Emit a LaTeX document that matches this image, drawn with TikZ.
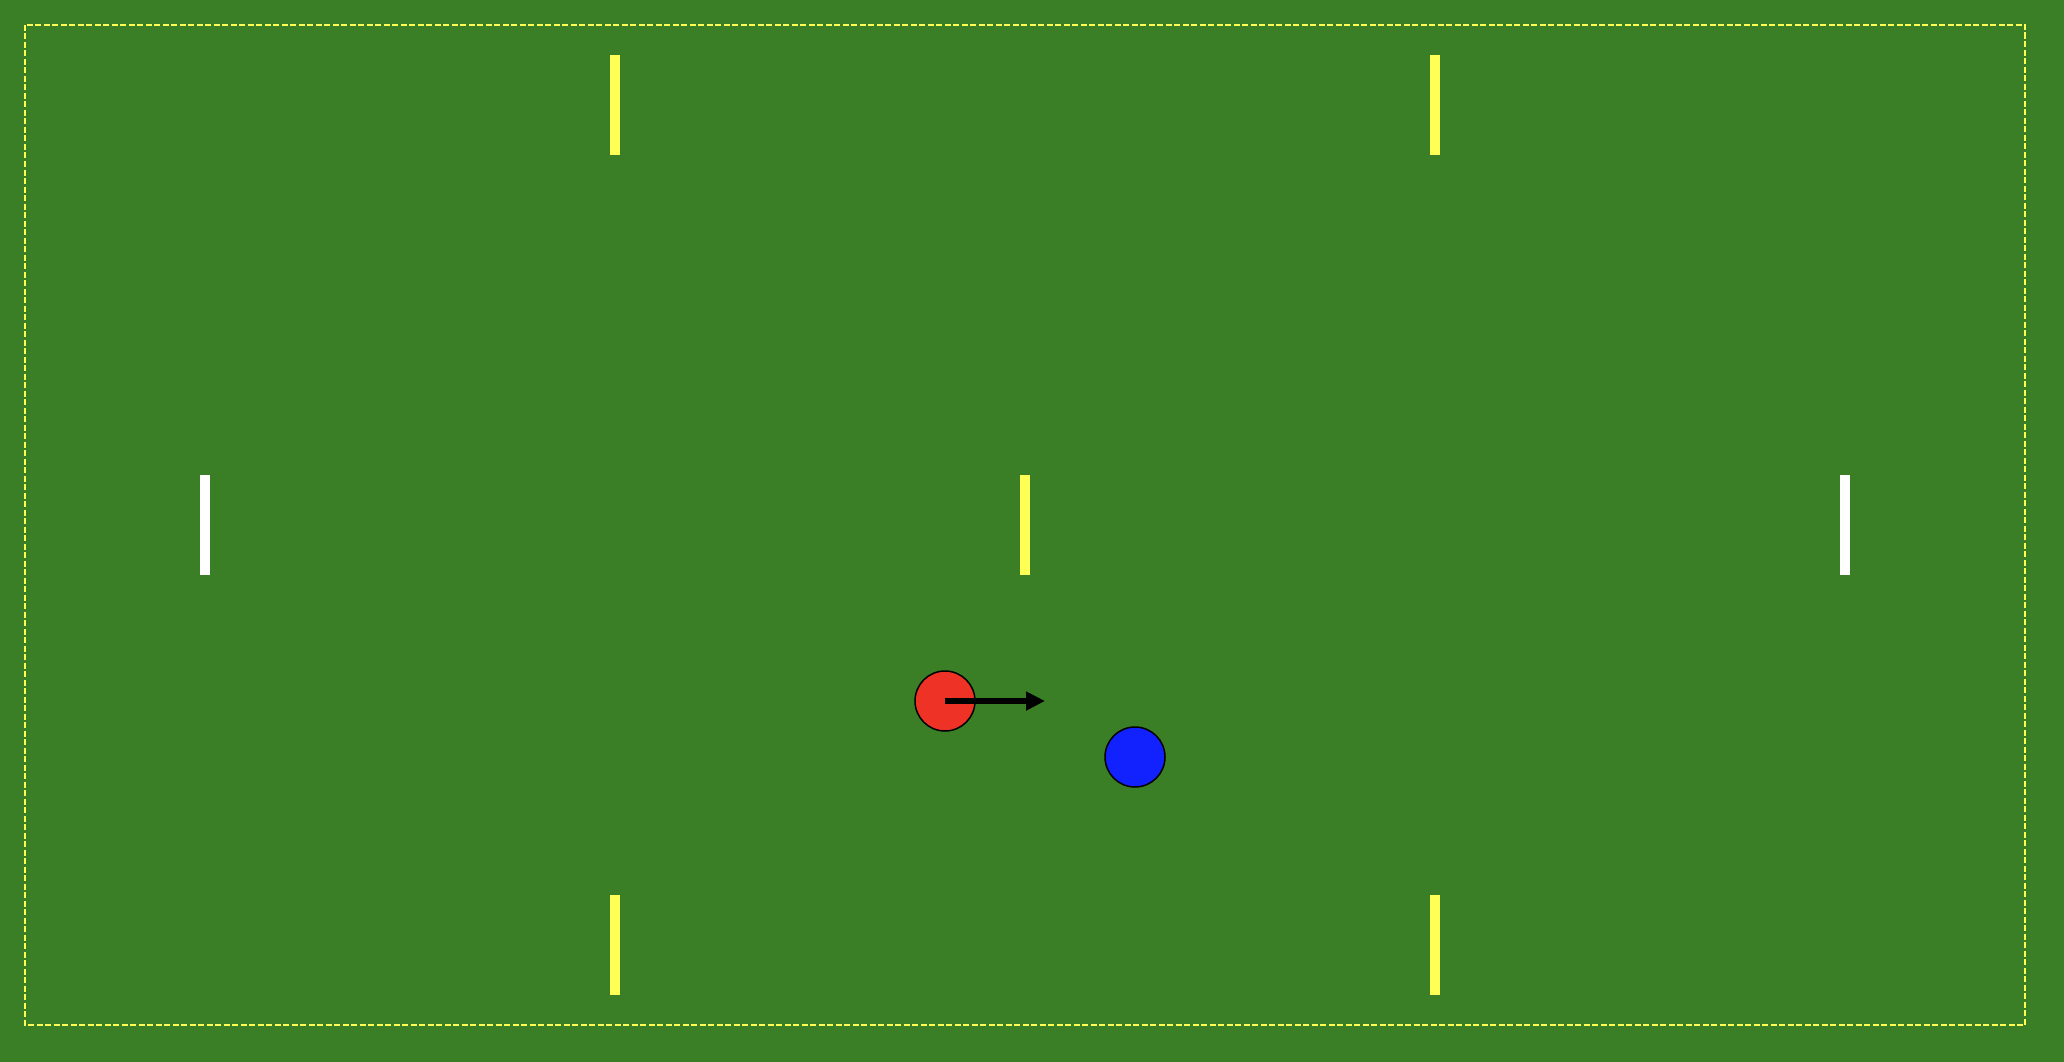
\documentclass[tikz,border=0pt]{standalone}
\usetikzlibrary{arrows.meta}
\definecolor{pitch}{RGB}{58,127,37}
\definecolor{cone}{RGB}{255,255,85}
\definecolor{redp}{RGB}{238,51,38}
\definecolor{bluep}{RGB}{17,34,255}
\tikzset{
  bar/.style={rectangle, inner sep=0pt, minimum width=10pt, minimum height=100pt, fill=#1, draw=none},
  player/.style={circle, inner sep=0pt, minimum size=60pt, fill=#1, draw=black, line width=1.5pt},
  move/.style={line width=6pt, -{Triangle[length=19pt,width=18pt]}}
}
\begin{document}
\begin{tikzpicture}[x=1pt,y=-1pt]
\fill[pitch] (0,0) rectangle (2064,1062);
\useasboundingbox (0,0) rectangle (2064,1062);
\draw[cone, line width=1.5pt, dash pattern=on 6pt off 2.5pt] (25,25) rectangle (2025,1025);
\node[bar=cone] (t1) at (615,105) {};
\node[bar=cone] (t2) at (1435,105) {};
\node[bar=cone] (m) at (1025,525) {};
\node[bar=white] (wl) at (205,525) {};
\node[bar=white] (wr) at (1845,525) {};
\node[bar=cone] (b1) at (615,945) {};
\node[bar=cone] (b2) at (1435,945) {};
\node[player=redp] (red) at (945,701) {};
\node[player=bluep] (blue) at (1135,757) {};
\coordinate (tip) at (1045,701);
\draw[move] (red.center) -- (tip);
\end{tikzpicture}
\end{document}
